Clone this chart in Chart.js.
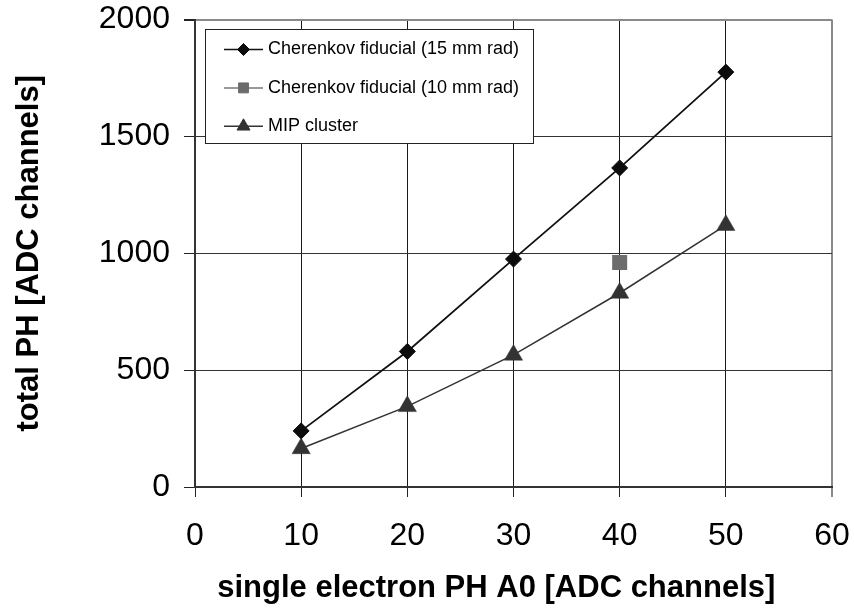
<!DOCTYPE html>
<html>
<head>
<meta charset="utf-8">
<title>total PH vs single electron PH</title>
<script src="https://cdn.jsdelivr.net/npm/chart.js@4/dist/chart.umd.min.js"></script>
<style>
  html, body { margin: 0; padding: 0; background: #fff; }
  canvas { display: block; }
</style>
</head>
<body>
<canvas id="phChart" width="854" height="611"></canvas>
<script>
// single electron pulse height (x) and measured total pulse heights (y)
const singleElectronPH = [10, 20, 30, 40, 50];
const cherenkov15mm = [240, 580, 975, 1365, 1775];
const cherenkov10mmX = [40];
const cherenkov10mm = [960];
const mipCluster = [165, 345, 565, 830, 1120];

const seriesLabels = [
  'Cherenkov fiducial (15 mm rad)',
  'Cherenkov fiducial (10 mm rad)',
  'MIP cluster'
];

const xRange = [0, 60, 10];   // min, max, step
const yRange = [0, 2000, 500];

const FONT = '"Liberation Sans", Arial, Helvetica, sans-serif';

function toPoints(xs, ys) {
  return xs.map((x, i) => ({ x: x, y: ys[i] }));
}

// boxed legend drawn inside the plot, over the grid but under the data
const boxLegend = {
  id: 'boxLegend',
  beforeDatasetsDraw(chart) {
    const { ctx, chartArea } = chart;
    const left = Math.round(chartArea.left + 10);
    const top = Math.round(chartArea.top + 9.5);
    const width = 329, height = 115;

    ctx.save();
    ctx.fillStyle = '#fff';
    ctx.fillRect(left, top, width, height);
    ctx.lineWidth = 1;
    ctx.strokeStyle = '#222';
    ctx.strokeRect(left + 0.5, top + 0.5, width - 1, height - 1);

    chart.data.datasets.forEach((ds, i) => {
      const y = top + 20.5 + i * 38.4;
      ctx.strokeStyle = ds.borderColor;
      ctx.lineWidth = 1.5;
      ctx.beginPath();
      ctx.moveTo(left + 19, y);
      ctx.lineTo(left + 58, y);
      ctx.stroke();

      ctx.lineWidth = 1;
      ctx.fillStyle = ds.pointBackgroundColor;
      ctx.strokeStyle = ds.pointBorderColor;
      Chart.helpers.drawPoint(ctx, {
        pointStyle: ds.pointStyle,
        radius: ds.legendRadius,
        rotation: 0,
        borderWidth: 1
      }, left + 38.5, y);

      ctx.fillStyle = '#000';
      ctx.font = '18px ' + FONT;
      ctx.textAlign = 'left';
      ctx.textBaseline = 'middle';
      ctx.fillText(ds.label, left + 63, y);
    });
    ctx.restore();
  }
};

// fixed axis boxes, no extra room reserved for overhanging tick labels
function fixAxis(size) {
  return scale => {
    if (scale.isHorizontal()) scale.height = size; else scale.width = size;
    scale.paddingTop = 0;
    scale.paddingBottom = 0;
    scale.paddingLeft = 0;
    scale.paddingRight = 0;
  };
}

const edgeColor = '#8a8a8a';

new Chart(document.getElementById('phChart'), {
  type: 'scatter',
  data: {
    datasets: [
      {
        label: seriesLabels[0],
        data: toPoints(singleElectronPH, cherenkov15mm),
        showLine: true,
        borderColor: '#111',
        borderWidth: 1.8,
        pointStyle: 'rectRot',
        pointRadius: 8,
        pointBorderWidth: 1,
        pointBackgroundColor: '#0c0c0c',
        pointBorderColor: '#0c0c0c',
        legendRadius: 6
      },
      {
        label: seriesLabels[1],
        data: toPoints(cherenkov10mmX, cherenkov10mm),
        showLine: true,
        borderColor: '#777',
        borderWidth: 1.5,
        pointStyle: 'rect',
        pointRadius: 10.6,
        pointBorderWidth: 0,
        pointBackgroundColor: '#6c6c6c',
        pointBorderColor: '#6c6c6c',
        legendRadius: 7
      },
      {
        label: seriesLabels[2],
        data: toPoints(singleElectronPH, mipCluster),
        showLine: true,
        borderColor: '#333',
        borderWidth: 1.5,
        pointStyle: 'triangle',
        pointRadius: 10.5,
        pointBorderWidth: 0.5,
        pointBackgroundColor: '#333',
        pointBorderColor: '#333',
        legendRadius: 7.5
      }
    ]
  },
  options: {
    responsive: false,
    animation: false,
    devicePixelRatio: 1,
    layout: { padding: { left: 0, right: 22, top: 19.5, bottom: 0 } },
    plugins: {
      legend: { display: false },
      tooltip: { enabled: false }
    },
    elements: { line: { tension: 0 } },
    scales: {
      x: {
        type: 'linear',
        min: xRange[0],
        max: xRange[1],
        ticks: {
          stepSize: xRange[2],
          color: '#000',
          padding: 20,
          maxRotation: 0,
          font: { family: FONT, size: 32 },
          callback: v => String(v)
        },
        grid: {
          color: c => (c.tick && c.tick.value === xRange[1]) ? edgeColor : '#1a1a1a',
          tickColor: c => (c.tick && c.tick.value === xRange[1]) ? edgeColor : '#222',
          lineWidth: c => (c.tick && c.tick.value === xRange[1]) ? 2 : 1,
          tickLength: 10
        },
        border: { color: '#333', width: 2 },
        title: {
          display: true,
          // trailing spaces pull the centred title a little to the left
          text: 'single electron PH A0 [ADC channels]' + '\u00a0'.repeat(4),
          color: '#000',
          font: { family: FONT, size: 31, weight: 'bold' },
          padding: { top: 0, bottom: 4 }
        },
        afterFit: fixAxis(124)
      },
      y: {
        type: 'linear',
        min: yRange[0],
        max: yRange[1],
        ticks: {
          stepSize: yRange[2],
          color: '#000',
          padding: 14,
          font: { family: FONT, size: 32 },
          callback: v => String(v)
        },
        grid: {
          color: c => (c.tick && c.tick.value === yRange[1]) ? edgeColor : '#333',
          tickColor: '#222',
          lineWidth: c => (c.tick && c.tick.value === yRange[1]) ? 2 : 1,
          tickLength: 11
        },
        border: { color: '#333', width: 2 },
        title: {
          display: true,
          text: 'total PH [ADC channels]',
          color: '#000',
          font: { family: FONT, size: 31, weight: 'bold' },
          padding: { top: 11, bottom: 0 }
        },
        afterFit: fixAxis(195)
      }
    }
  },
  plugins: [boxLegend]
});
</script>
</body>
</html>
